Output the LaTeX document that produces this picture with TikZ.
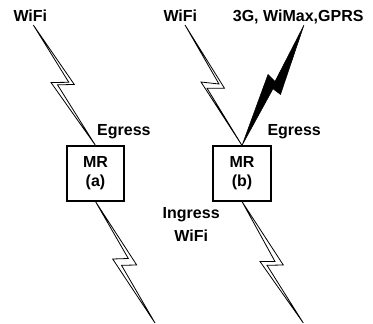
\documentclass[tikz,border=0pt]{standalone}
\usepackage{fontspec}
\setmainfont{Liberation Sans}
\begin{document}
\begin{tikzpicture}[x=1pt,y=-1pt,
  every node/.style={font=\fontsize{16}{19}\selectfont\bfseries},
  label/.style={inner sep=0pt, anchor=base west},
  router/.style={draw, line width=1.1pt, minimum width=57pt, minimum height=55pt,
    inner sep=0pt, align=center},
  hollowbolt/.style={draw, line width=0.8pt, line join=miter, fill=white},
  solidbolt/.style={draw, line width=0.5pt, line join=miter, fill=black}]
\useasboundingbox (0,0) rectangle (373,324);

% mesh routers
\node[router] (mra) at (95.5,173.5) {MR\\(a)};
\node[router, minimum width=58pt] (mrb) at (242,173.5) {MR\\(b)};

% free ends of the radio links
\coordinate (wa) at (33.3,25);
\coordinate (wb) at (185,25);
\coordinate (cell) at (304,25);
\coordinate (ina) at (155,323);
\coordinate (inb) at (303.3,323);

% radio links drawn as lightning bolts
\draw[hollowbolt] (wa) -- (74.3,84.5) -- (57.5,84.8) -- (mra.north)
  -- (51,82.5) -- (68.8,82.3) -- cycle;
\draw[hollowbolt] (wb) -- (224.5,88.3) -- (207,88.2) -- (mrb.north)
  -- (201,82) -- (219,84) -- cycle;
\draw[solidbolt] (cell) -- (280.5,94.5) -- (273,88.8) -- (mrb.north)
  -- (268,74.5) -- (275,81.5) -- cycle;
\draw[hollowbolt] (mra.south) -- (136.7,265) -- (121.5,265.3) -- (ina)
  -- (112.7,259) -- (128.3,258.5) -- cycle;
\draw[hollowbolt] (mrb.south) -- (283.3,265) -- (267,265.3) -- (inb)
  -- (260,261.5) -- (275,261.5) -- cycle;

% labels
\node[label] (lwa) at (13.3,21.5) {WiFi};
\node[label] (lwb) at (163.3,21.5) {WiFi};
\node[label] (lcell) at (232.7,21.5) {3G, WiMax,GPRS};
\node[label] (lega) at (97,135) {Egress};
\node[label] (legb) at (267.3,135) {Egress};
\node[inner sep=0pt, anchor=base, align=center] (ling) at (191.2,241.5)
  {Ingress\\[4pt]WiFi};
\end{tikzpicture}
\end{document}
